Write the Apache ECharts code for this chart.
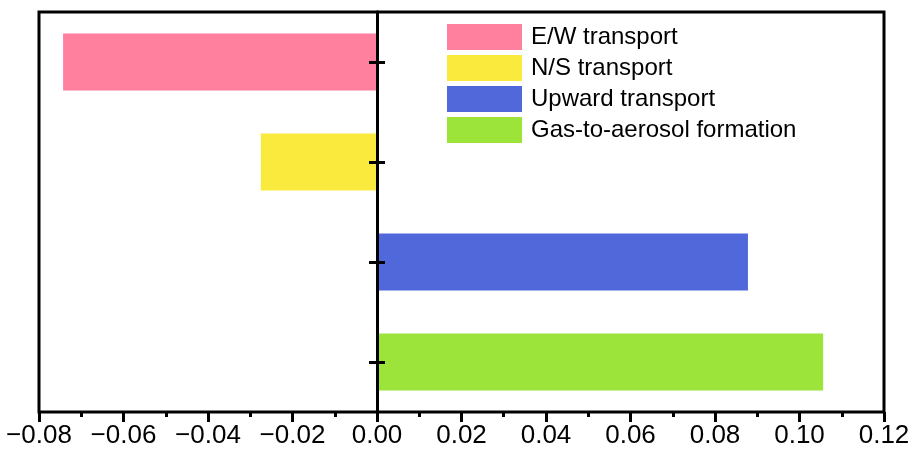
<!DOCTYPE html>
<html>
<head>
<meta charset="utf-8">
<script src="https://cdn.jsdelivr.net/npm/echarts@6/dist/echarts.min.js"></script>
<style>
html,body{margin:0;padding:0;background:#fff;}
#chart{width:922px;height:452px;}
</style>
</head>
<body>
<div id="chart"></div>
<script>
const categories = ['E/W transport', 'N/S transport', 'Upward transport', 'Gas-to-aerosol formation'];
const values = [-0.0743, -0.0275, 0.0878, 0.1056];
const colors = ['#FF7F9F', '#F9EA3D', '#5068DA', '#9CE33A'];
const xTicks = [-0.08, -0.06, -0.04, -0.02, 0.00, 0.02, 0.04, 0.06, 0.08, 0.10, 0.12];

const FONT = 'Liberation Sans, Arial, sans-serif';
const gridBox = { left: 39, right: 38, top: 12, bottom: 40 };

const series = categories.map((name, i) => ({
  name: name,
  type: 'bar',
  stack: 'all',
  barWidth: '57%',
  xAxisIndex: 0,
  yAxisIndex: 0,
  z: 2,
  itemStyle: { color: colors[i] },
  data: categories.map((c, j) => (j === i ? values[i] : '-'))
}));

const yAxisBase = (idx, inside) => ({
  type: 'category',
  gridIndex: idx,
  z: 10,
  data: categories,
  inverse: true,
  axisLine: { onZero: true, lineStyle: { color: '#000', width: 3 } },
  axisTick: { show: true, alignWithLabel: true, inside: inside, length: 8, lineStyle: { color: '#000', width: 3 } },
  axisLabel: { show: false },
  splitLine: { show: false }
});

const chart = echarts.init(document.getElementById('chart'), null, { renderer: 'canvas' });
chart.setOption({
  animation: false,
  backgroundColor: '#fff',
  textStyle: { fontFamily: FONT },
  grid: [
    Object.assign({ show: true, borderColor: '#000', borderWidth: 3, backgroundColor: 'transparent' }, gridBox),
    Object.assign({ show: false }, gridBox)
  ],
  legend: {
    orient: 'vertical',
    left: 447, top: 24,
    padding: 0,
    itemWidth: 75, itemHeight: 26, itemGap: 5,
    icon: 'rect',
    data: categories,
    textStyle: { fontFamily: FONT, fontSize: 24, color: '#000', padding: [5, 0, 0, 4] }
  },
  xAxis: [
    {
      type: 'value',
      gridIndex: 0,
      z: 10,
      min: xTicks[0],
      max: xTicks[xTicks.length - 1],
      interval: 0.02,
      axisLine: { onZero: false, lineStyle: { color: '#000', width: 3 } },
      axisTick: { show: true, inside: false, length: 10, lineStyle: { color: '#000', width: 3 } },
      minorTick: { show: true, splitNumber: 2, length: 5, lineStyle: { color: '#000', width: 3 } },
      splitLine: { show: false },
      axisLabel: {
        margin: 11, fontSize: 26, color: '#000', fontFamily: FONT,
        formatter: v => (v < 0 ? '\u2212' : '') + Math.abs(v).toFixed(2)
      }
    },
    {
      type: 'value',
      gridIndex: 1,
      min: xTicks[0],
      max: xTicks[xTicks.length - 1],
      interval: 0.02,
      show: false
    }
  ],
  yAxis: [yAxisBase(0, false), yAxisBase(1, true)],
  series: series
});
</script>
</body>
</html>
